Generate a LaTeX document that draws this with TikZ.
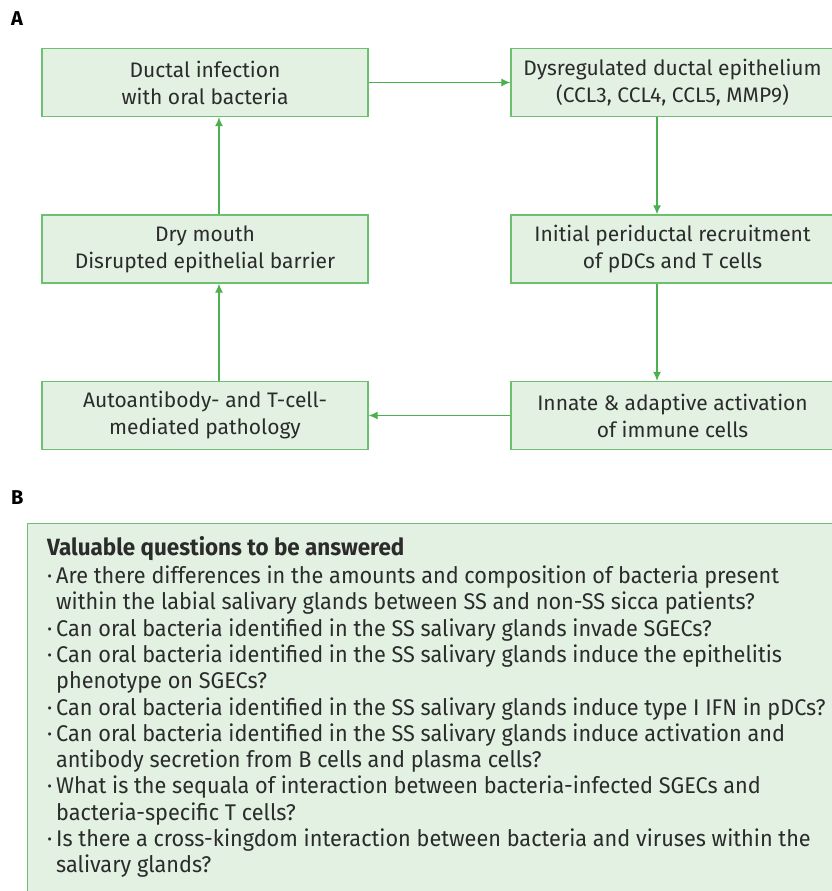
\documentclass[tikz,border=0pt]{standalone}
\usepackage{fontspec}
\setmainfont{Fira Sans}
\newfontfamily\condfont[FakeStretch=0.955]{Fira Sans}
\usetikzlibrary{arrows.meta}
\definecolor{boxfill}{HTML}{E2F1E2}
\definecolor{boxline}{HTML}{6CC070}
\definecolor{arrowc}{HTML}{4CAF50}
\definecolor{txt}{HTML}{2B2B2B}
\newcommand{\bul}{\makebox[9pt][l]{·}}
\newcommand{\ind}{\hspace*{9pt}}
\begin{document}
\begin{tikzpicture}[x=1pt,y=-1pt,
  stepbox/.style={draw=boxline, line width=1.3pt, fill=boxfill, text=txt, align=center,
    inner sep=0pt, minimum height=68pt, font=\fontsize{21}{27}\selectfont},
  leftbox/.style={stepbox, minimum width=326pt},
  rightbox/.style={stepbox, minimum width=323pt},
  flow/.style={draw=arrowc, line width=1.2pt, -{Latex[length=9pt,width=8pt]}},
  panellabel/.style={anchor=west, font=\bfseries\fontsize{20}{20}\selectfont, text=black, inner sep=0pt}]
\useasboundingbox (0,0) rectangle (832,891);
\node[panellabel] (la) at (11,19) {A};
\node[panellabel] (lb) at (11,498) {B};
\coordinate (xl) at (219,0);
\coordinate (xr) at (657,0);
\node[leftbox] (b1) at (205,82.5) {Ductal infection\\with oral bacteria};
\node[rightbox] (b2) at (672.5,82.5) {Dysregulated ductal epithelium\\(CCL3, CCL4, CCL5, MMP9)};
\node[leftbox] (b3) at (205,249) {Dry mouth\\Disrupted epithelial barrier};
\node[rightbox] (b4) at (672.5,249) {Initial periductal recruitment\\of pDCs and T cells};
\node[leftbox] (b5) at (205,415.5) {Autoantibody- and T-cell-\\mediated pathology};
\node[rightbox] (b6) at (672.5,415.5) {Innate \& adaptive activation\\of immune cells};
\draw[flow] (b1.east) -- (b2.west);
\draw[flow] (b2.south -| xr) -- (b4.north -| xr);
\draw[flow] (b4.south -| xr) -- (b6.north -| xr);
\draw[flow] (b6.west) -- (b5.east);
\draw[flow] (b5.north -| xl) -- (b3.south -| xl);
\draw[flow] (b3.north -| xl) -- (b1.south -| xl);
\node[draw=boxline, line width=1.3pt, fill=boxfill, anchor=north west, minimum width=820pt, minimum height=380pt, inner sep=0pt] (pb) at (27,523) {};
\node[anchor=north west, align=left, inner sep=0pt, text=txt, font=\condfont\fontsize{22.7}{26.3}\selectfont] (qs) at (47,536) {%
{\bfseries\fontsize{23.5}{26.3}\selectfont Valuable questions to be answered}\\[2pt]
\bul Are there differences in the amounts and composition of bacteria present\\
\ind within the labial salivary glands between SS and non-SS sicca patients?\\
\bul Can oral bacteria identified in the SS salivary glands invade SGECs?\\
\bul Can oral bacteria identified in the SS salivary glands induce the epithelitis\\
\ind phenotype on SGECs?\\
\bul Can oral bacteria identified in the SS salivary glands induce type I IFN in pDCs?\\
\bul Can oral bacteria identified in the SS salivary glands induce activation and\\
\ind antibody secretion from B cells and plasma cells?\\
\bul What is the sequala of interaction between bacteria-infected SGECs and\\
\ind bacteria-specific T cells?\\
\bul Is there a cross-kingdom interaction between bacteria and viruses within the\\
\ind salivary glands?};
\end{tikzpicture}
\end{document}
